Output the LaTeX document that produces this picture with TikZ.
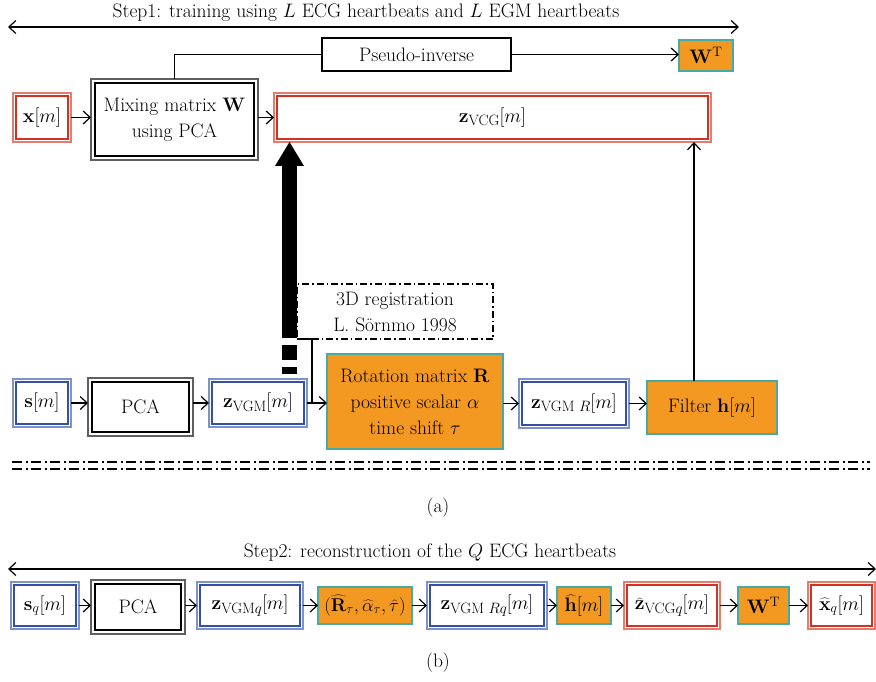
\RequirePackage{fix-cm}
\documentclass[tikz,border=0pt]{standalone}
\usetikzlibrary{arrows.meta,calc}
\definecolor{orng}{RGB}{243,152,33}
\definecolor{tealb}{RGB}{72,170,165}
\definecolor{redin}{RGB}{210,50,35}
\definecolor{redout}{RGB}{228,125,110}
\definecolor{bluein}{RGB}{50,80,170}
\definecolor{blueout}{RGB}{125,145,205}
\definecolor{grayout}{RGB}{95,95,95}
\newcommand{\zsub}[1]{\raisebox{-3.5pt}{\fontsize{15}{15}\selectfont #1}}
\begin{document}
\begin{tikzpicture}[x=1pt,y=-1pt,font=\fontsize{19.5}{26}\selectfont]
\tikzset{
  base/.style={inner sep=0pt, outer sep=0pt, align=center},
  sz/.style 2 args={minimum width=#1pt, minimum height=#2pt},
  redbox/.style={base, draw=redout, line width=1.4pt},
  bluebox/.style={base, draw=blueout, line width=1.4pt},
  blkbox/.style={base, draw=grayout, line width=2.2pt},
  orgbox/.style={base, fill=orng, draw=tealb, line width=1.3pt},
  plainbox/.style={base, draw=black, line width=1.3pt},
  regbox/.style={base, draw=black, line width=1.1pt, dash pattern=on 7pt off 3pt on 1.5pt off 3pt},
  conn/.style={line width=1.2pt, -{Straight Barb[length=7pt,width=13pt]}},
  plain/.style={line width=1.2pt},
  biarrow/.style={line width=1.2pt, {Straight Barb[length=7pt,width=13pt]}-{Straight Barb[length=7pt,width=13pt]}},
  sep/.style={line width=1.1pt, dash pattern=on 10pt off 3.5pt on 2pt off 3.5pt}
}
\useasboundingbox (0,0) rectangle (876,682);

% ---------- (a) ----------
\node[anchor=base] (lab1) at (366,18) {Step1: training using $L$ ECG heartbeats and $L$ EGM heartbeats};
\coordinate (s1l) at (8,27);
\coordinate (s1r) at (739,27);
\draw[biarrow] (s1l) -- (s1r);

\node[plainbox, sz={189}{33}] (pinv) at (416.5,54.5) {Pseudo-inverse};
\node[orgbox, sz={54}{31}] (wt1) at (706,55.5) {$\mathbf{W}^{\mathrm{T}}$};
\node[redbox, sz={58}{49}] (xm) at (42,117.5) {$\mathbf{x}[m]$};
\node[blkbox, sz={167}{81}] (mix) at (174.5,119.5) {Mixing matrix $\mathbf{W}$\\using PCA};
\node[redbox, sz={437}{49}] (vcg) at (492.5,117.5) {$\mathbf{z}$\zsub{VCG}$[m]$};

\node[regbox, sz={196}{55}] (reg) at (395,311.5) {3D registration\\L. S\"ornmo 1998};

\node[bluebox, sz={58}{48}] (sm) at (42,403) {$\mathbf{s}[m]$};
\node[blkbox, sz={105}{58}] (pca1) at (140.5,407) {PCA};
\node[bluebox, sz={98}{48}] (zvgm) at (258,403) {$\mathbf{z}$\zsub{VGM}$[m]$};
\node[orgbox, sz={176}{95}] (rot) at (415,401.5) {Rotation matrix $\mathbf{R}$\\positive scalar $\alpha$\\time shift $\tau$};
\node[bluebox, sz={110}{49}] (zvgmr) at (574,403.5) {$\mathbf{z}$\zsub{VGM $R$}$[m]$};
\node[orgbox, sz={130}{53}] (filt) at (712,407.5) {Filter $\mathbf{h}[m]$};

% connectors (a)
\draw[conn] (xm.east) -- (mix.west |- xm.east);
\draw[conn] (mix.east |- vcg.west) -- (vcg.west);
\draw[plain] (mix.north) |- (pinv.west);
\draw[conn] (pinv.east) -- (wt1.west |- pinv.east);
\draw[conn] (sm.east) -- (pca1.west |- sm.east);
\draw[conn] (pca1.east |- zvgm.west) -- (zvgm.west);
\draw[conn] (zvgm.east) -- (rot.west |- zvgm.east);
\draw[plain] (reg.south west) -- ++(15,0) -- (312,0 |- zvgm.east);
\draw[conn] (rot.east |- zvgmr.west) -- (zvgmr.west);
\draw[conn] (zvgmr.east) -- (filt.west |- zvgmr.east);
\draw[conn] (694,0 |- filt.north) -- (694,0 |- vcg.south);

% thick arrow
\coordinate (tip) at (289.5,0 |- vcg.south);
\fill (282,338) rectangle (297,166);
\fill (275,166) -- (tip) -- (304,166) -- cycle;
\fill (282,345) rectangle (297,360);
\fill (282,367) rectangle (297,374);

% separator
\draw[sep] (12,462) -- (870,462);
\draw[sep] (12,469) -- (870,469);

\node (capa) at (438,508) {(a)};

% ---------- (b) ----------
\node[anchor=base] (lab2) at (430,557) {Step2: reconstruction of the $Q$ ECG heartbeats};
\coordinate (s2l) at (8,569);
\coordinate (s2r) at (876,569);
\draw[biarrow] (s2l) -- (s2r);

\node[bluebox, sz={68}{47}] (sq) at (45,605.5) {$\mathbf{s}_q[m]$};
\node[blkbox, sz={94}{54}] (pca2) at (138,607) {PCA};
\node[bluebox, sz={106}{47}] (zq) at (250,605.5) {$\mathbf{z}$\zsub{VGM$q$}$[m]$};
\node[orgbox, sz={94}{37}, font=\fontsize{18.5}{22}\selectfont] (est) at (365,605.5) {$(\widehat{\mathbf{R}}_\tau,\widehat{\alpha}_\tau,\widehat{\tau})$};
\node[bluebox, sz={120}{47}] (zrq) at (487,605.5) {$\mathbf{z}$\zsub{VGM $Rq$}$[m]$};
\node[orgbox, sz={54}{37}] (hh) at (584,605.5) {$\widehat{\mathbf{h}}[m]$};
\node[redbox, sz={96}{47}] (zvq) at (672,605.5) {$\widehat{\mathbf{z}}$\zsub{VCG$q$}$[m]$};
\node[orgbox, sz={51}{37}] (wt2) at (763.5,605.5) {$\mathbf{W}^{\mathrm{T}}$};
\node[redbox, sz={67}{47}] (xq) at (841.5,605.5) {$\widehat{\mathbf{x}}_q[m]$};

\draw[conn] (sq.east) -- (pca2.west |- sq.east);
\draw[conn] (pca2.east |- zq.west) -- (zq.west);
\draw[conn] (zq.east) -- (est.west);
\draw[conn] (est.east) -- (zrq.west);
\draw[conn] (zrq.east) -- (hh.west);
\draw[conn] (hh.east) -- (zvq.west);
\draw[conn] (zvq.east) -- (wt2.west);
\draw[conn] (wt2.east) -- (xq.west);

\node (capb) at (438,663) {(b)};

% inner frames of double boxes
\foreach \n in {xm,vcg,zvq,xq}
  \draw[redin, line width=1.2pt] ([shift={(3pt,-3pt)}]\n.north west) rectangle ([shift={(-3pt,3pt)}]\n.south east);
\foreach \n in {sm,zvgm,zvgmr,sq,zq,zrq}
  \draw[bluein, line width=1.2pt] ([shift={(3pt,-3pt)}]\n.north west) rectangle ([shift={(-3pt,3pt)}]\n.south east);
\foreach \n in {mix,pca1,pca2}
  \draw[black, line width=1.5pt] ([shift={(4pt,-4pt)}]\n.north west) rectangle ([shift={(-4pt,4pt)}]\n.south east);
\end{tikzpicture}
\end{document}
